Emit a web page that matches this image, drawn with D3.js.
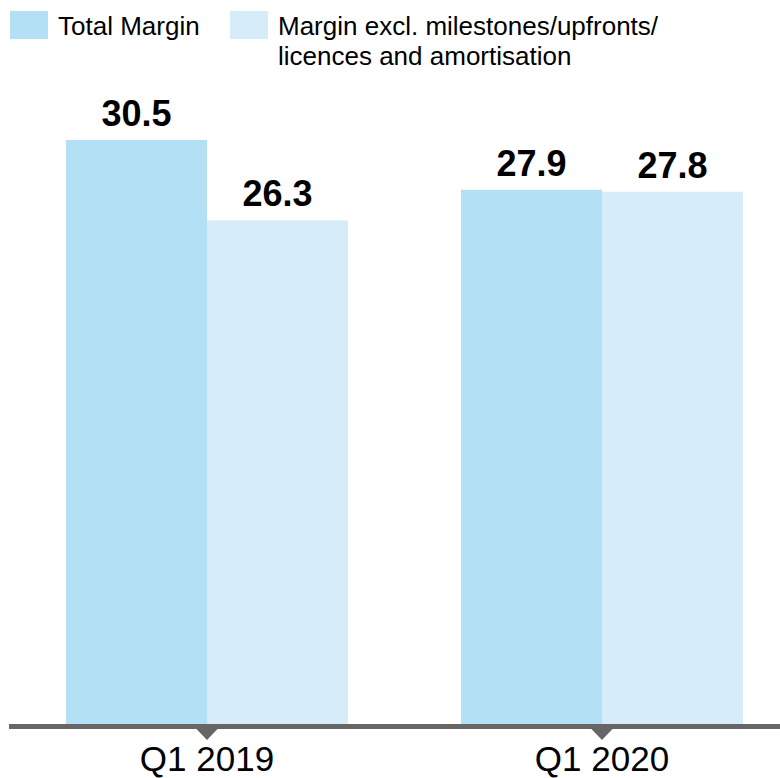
<!DOCTYPE html>
<html>
<head>
<meta charset="utf-8">
<script src="https://cdn.jsdelivr.net/npm/d3@7"></script>
<style>
  body { margin: 0; background: #fff; }
  text { font-family: "Liberation Sans", Arial, Helvetica, sans-serif; }
</style>
</head>
<body>
<script>
const w = 780;
const h = 778;

// data
const quarters = ["Q1 2019", "Q1 2020"];
const seriesNames = ["Total Margin", "Margin excl. milestones/upfronts/|licences and amortisation"];
const totalMargin = [30.5, 27.9];
const marginExcl = [26.3, 27.8];

const colors = ["#b3e0f5", "#d6ecf9"];
const axisColor = "#666666";

const svg = d3.select("body")
              .append("svg")
              .attr("width", w)
              .attr("height", h);

const baseY = 724;

const x = d3.scaleBand()
            .domain(quarters)
            .range([66, 743])
            .paddingInner(0.286)
            .paddingOuter(0);

const xs = d3.scaleBand()
             .domain([0, 1])
             .range([0, x.bandwidth()]);

const y = d3.scaleLinear()
            .domain([0, 30.5])
            .range([baseY, 140]);

const rows = quarters.map((q, i) => ({q: q, vals: [totalMargin[i], marginExcl[i]]}));

const groups = svg.append("g")
   .selectAll("g")
   .data(rows)
   .enter()
   .append("g")
   .attr("transform", d => "translate(" + x(d.q) + ",0)");

groups.selectAll("rect")
   .data(d => d.vals)
   .enter()
   .append("rect")
   .attr("x", (d, i) => xs(i))
   .attr("y", d => y(d))
   .attr("width", xs.bandwidth())
   .attr("height", d => baseY - y(d))
   .attr("fill", (d, i) => colors[i]);

groups.selectAll("text.val")
   .data(d => d.vals)
   .enter()
   .append("text")
   .attr("class", "val")
   .attr("x", (d, i) => xs(i) + xs.bandwidth() / 2)
   .attr("y", d => y(d) - 14)
   .attr("text-anchor", "middle")
   .attr("font-size", 36)
   .attr("font-weight", "bold")
   .attr("fill", "#000")
   .text(d => d.toFixed(1));

// axis line
svg.append("rect")
   .attr("x", 9)
   .attr("y", baseY)
   .attr("width", w - 9)
   .attr("height", 5)
   .attr("fill", axisColor);

// tick triangles + labels
quarters.forEach(q => {
  const cx = x(q) + x.bandwidth() / 2;
  svg.append("path")
     .attr("d", `M${cx - 11.5},${baseY + 4} L${cx + 11.5},${baseY + 4} L${cx},${baseY + 16} Z`)
     .attr("fill", axisColor);
  svg.append("text")
     .attr("x", cx)
     .attr("y", 771)
     .attr("text-anchor", "middle")
     .attr("font-size", 35)
     .attr("fill", "#000")
     .text(q);
});

// legend
const legendX = [10, 230];
seriesNames.forEach((name, i) => {
  svg.append("rect")
     .attr("x", legendX[i])
     .attr("y", 11)
     .attr("width", 38)
     .attr("height", 28)
     .attr("fill", colors[i]);
  const t = svg.append("text")
     .attr("x", legendX[i] + 48)
     .attr("y", 35)
     .attr("font-size", 26)
     .attr("fill", "#000");
  name.split("|").forEach((line, j) => {
    t.append("tspan")
     .attr("x", legendX[i] + 48)
     .attr("dy", j === 0 ? 0 : 30)
     .text(line);
  });
});
</script>
</body>
</html>
